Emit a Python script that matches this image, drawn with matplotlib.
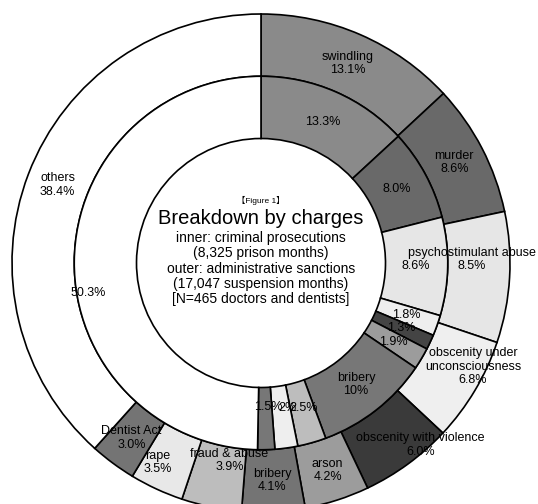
import matplotlib
matplotlib.use("Agg")
import numpy as np
import matplotlib.pyplot as plt

plt.rcParams['font.family'] = ['Liberation Sans', 'Noto Sans CJK JP', 'DejaVu Sans']

# outer ring: administrative sanctions
outer_names = ["swindling", "murder", "psychostimulant abuse", "obscenity under\nunconsciousness",
               "obscenity with violence", "arson", "bribery", "fraud & abuse", "rape",
               "Dentist Act", "others"]
outer_vals = [13.1, 8.6, 8.5, 6.8, 6.0, 4.2, 4.1, 3.9, 3.5, 3.0, 38.4]
outer_labels = ["13.1%", "8.6%", "8.5%", "6.8%", "6.0%", "4.2%", "4.1%", "3.9%", "3.5%", "3.0%", "38.4%"]
outer_colors = ["#8a8a8a", "#696969", "#e6e6e6", "#efefef", "#3a3a3a", "#9c9c9c",
                "#747474", "#bdbdbd", "#e8e8e8", "#747474", "#ffffff"]

# inner ring: criminal prosecutions
inner_names = ["", "", "", "", "", "", "bribery", "", "", "", ""]
inner_vals = [13.3, 8.0, 8.6, 1.8, 1.3, 1.9, 10, 2.5, 2, 1.5, 50.3]
inner_labels = ["13.3%", "8.0%", "8.6%", "1.8%", "1.3%", "1.9%", "10%", "2.5%", "2%", "1.5%", "50.3%"]
inner_colors = ["#8a8a8a", "#696969", "#e6e6e6", "#eeeeee", "#444444", "#9c9c9c",
                "#777777", "#bdbdbd", "#eeeeee", "#777777", "#ffffff"]

W, H = 538, 504
cx, cy, R = 261, 263, 249

fig = plt.figure(figsize=(W / 100, H / 100), dpi=100)
ax = fig.add_axes([0, 0, 1, 1])
ax.axis('off')

wp = dict(edgecolor='black', linewidth=1.2)
outer, _ = ax.pie(outer_vals, radius=1.0, colors=outer_colors, startangle=90,
                  counterclock=False, wedgeprops=dict(width=0.25, **wp))
inner, _ = ax.pie(inner_vals, radius=0.75, colors=inner_colors, startangle=90,
                  counterclock=False, wedgeprops=dict(width=0.25, **wp))
ax.set_xlim(-cx / R, (W - cx) / R)
ax.set_ylim(-(H - cy) / R, cy / R)
ax.set_aspect('auto')

# small nudges in pixels (dx, dy with y down)
outer_nudge = {2: (-7, -16), 3: (25, -8), 4: (31, 6), 7: (12, -16), 8: (-12, 2)}
inner_nudge = {7: (0, -4), 8: (5, -8), 9: (3, -10), 10: (-18, 31)}


def place(wedges, names, pcts, r, nudge):
    for i, w in enumerate(wedges):
        a = np.deg2rad((w.theta1 + w.theta2) / 2)
        x, y = r * np.cos(a), r * np.sin(a)
        dx, dy = nudge.get(i, (0, 0))
        x += dx / R
        y -= dy / R
        txt = pcts[i] if not names[i] else names[i] + "\n" + pcts[i]
        ax.text(x, y, txt, ha='center', va='center', fontsize=9,
                linespacing=1.15, color='black')


place(outer, outer_names, outer_labels, 0.875, outer_nudge)
place(inner, inner_names, inner_labels, 0.62, inner_nudge)

ax.text(0, 63 / R, "【Figure 1】", ha='center', va='center', fontsize=6)
ax.text(0, 45 / R, "Breakdown by charges", ha='center', va='center', fontsize=14.5)
center_lines = ["inner: criminal prosecutions", "(8,325 prison months)",
                "outer: administrative sanctions", "(17,047 suspension months)",
                "[N=465 doctors and dentists]"]
for k, s in enumerate(center_lines):
    ax.text(0, (25 - 15.3 * k) / R, s, ha='center', va='center', fontsize=10)

fig.savefig("out.png", dpi=100)
